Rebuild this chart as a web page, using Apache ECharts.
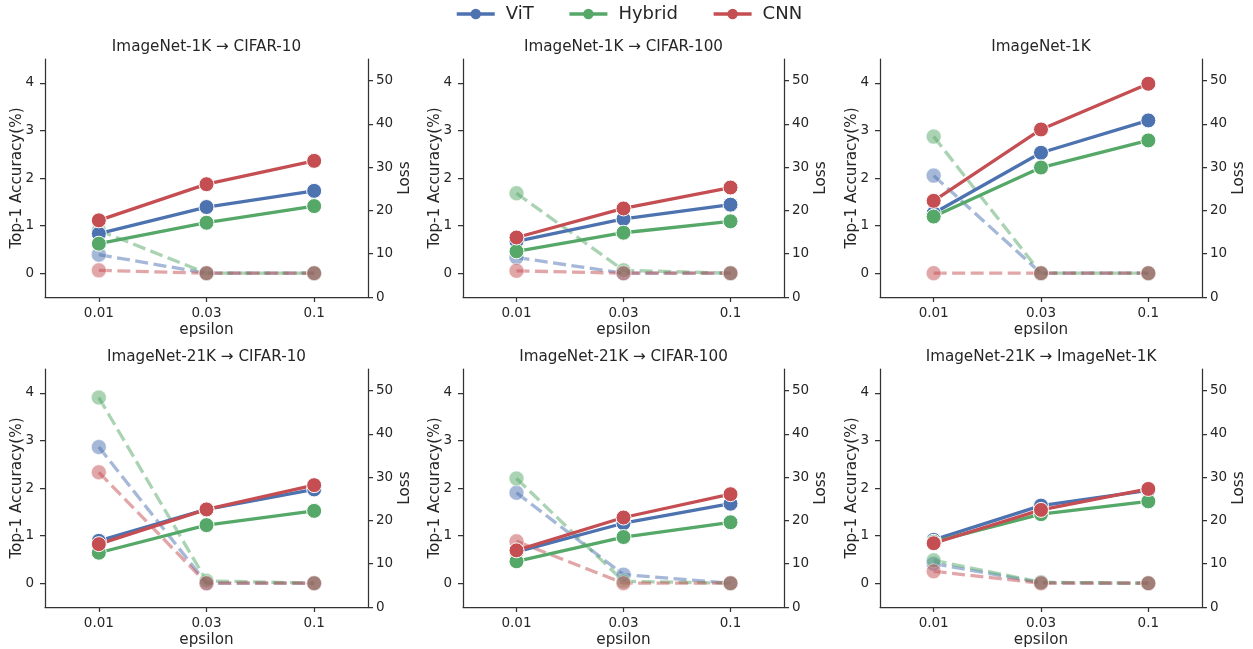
<!DOCTYPE html>
<html>
<head>
<meta charset="utf-8">
<script src="https://cdn.jsdelivr.net/npm/echarts@6/dist/echarts.min.js"></script>
<style>
html,body{margin:0;padding:0;background:#fff;}
#chart{width:1253px;height:649px;}
</style>
</head>
<body>
<div id="chart"></div>
<script>
// ---- data ----
const epsilons = ['0.01', '0.03', '0.1'];
const models = ['ViT', 'Hybrid', 'CNN'];
const panelTitles = [
  'ImageNet-1K → CIFAR-10',
  'ImageNet-1K → CIFAR-100',
  'ImageNet-1K',
  'ImageNet-21K → CIFAR-10',
  'ImageNet-21K → CIFAR-100',
  'ImageNet-21K → ImageNet-1K'
];
const accTicks = [0, 1, 2, 3, 4];
const lossTicks = [0, 10, 20, 30, 40, 50];

// solid lines (Top-1 accuracy), one triple per panel
const vitSolid = [
  [0.83, 1.39, 1.73],
  [0.67, 1.14, 1.44],
  [1.26, 2.53, 3.21],
  [0.89, 1.55, 1.97],
  [0.66, 1.26, 1.67],
  [0.91, 1.63, 1.95]
];
const hybridSolid = [
  [0.62, 1.06, 1.41],
  [0.46, 0.85, 1.09],
  [1.19, 2.22, 2.79],
  [0.64, 1.22, 1.52],
  [0.46, 0.97, 1.28],
  [0.87, 1.45, 1.72]
];
const cnnSolid = [
  [1.11, 1.87, 2.36],
  [0.75, 1.36, 1.80],
  [1.52, 3.02, 3.98],
  [0.82, 1.55, 2.06],
  [0.69, 1.38, 1.87],
  [0.84, 1.54, 1.98]
];
// dashed lines
const vitDashed = [
  [0.39, 0.0, 0.0],
  [0.33, 0.0, 0.0],
  [2.05, 0.0, 0.0],
  [2.86, 0.0, 0.0],
  [1.90, 0.18, 0.0],
  [0.41, 0.01, 0.0]
];
const hybridDashed = [
  [0.90, 0.0, 0.0],
  [1.68, 0.06, 0.0],
  [2.87, 0.0, 0.0],
  [3.90, 0.05, 0.0],
  [2.20, 0.04, 0.0],
  [0.48, 0.02, 0.0]
];
const cnnDashed = [
  [0.06, 0.0, 0.0],
  [0.05, 0.0, 0.0],
  [0.0, 0.0, 0.0],
  [2.33, 0.0, 0.0],
  [0.88, 0.0, 0.0],
  [0.25, 0.0, 0.0]
];

// ---- styling / layout ----
const colors = { ViT: '#4C72B0', Hybrid: '#55A868', CNN: '#C44E52' };
const solidData = { ViT: vitSolid, Hybrid: hybridSolid, CNN: cnnSolid };
const dashedData = { ViT: vitDashed, Hybrid: hybridDashed, CNN: cnnDashed };
const FONT = 'DejaVu Sans';
const TXT = '#262626';
const SPINE = '#333333';
const LBL = 15.2, TICK = 13.5;
const colLeft = [45, 463, 880];
const colWidth = [323, 321, 322];
const rowTop = [59, 369];
const gridH = 238;

const grids = [], xAxes = [], yAxes = [], series = [], graphics = [];
for (let p = 0; p < 6; p++) {
  const r = Math.floor(p / 3), c = p % 3;
  grids.push({ left: colLeft[c], top: rowTop[r], width: colWidth[c], height: gridH, containLabel: false });
  xAxes.push({
    type: 'category', gridIndex: p, data: epsilons, boundaryGap: true, position: 'bottom',
    name: 'epsilon', nameLocation: 'middle', nameGap: 26, nameMoveOverlap: false,
    nameTextStyle: { fontFamily: FONT, fontSize: LBL, color: TXT },
    axisLine: { show: true, onZero: false, lineStyle: { color: SPINE, width: 1.25 } },
    axisTick: { show: true, alignWithLabel: true, length: 5, lineStyle: { color: SPINE, width: 1.25 } },
    axisLabel: { fontFamily: FONT, fontSize: TICK, color: TXT, margin: 9 },
    splitLine: { show: false }
  });
  yAxes.push({
    type: 'value', gridIndex: p, position: 'left', min: -0.5, max: 4.5,
    name: 'Top-1 Accuracy(%)', nameLocation: 'middle', nameGap: 20, nameRotate: 90, nameMoveOverlap: false,
    nameTextStyle: { fontFamily: FONT, fontSize: LBL, color: TXT },
    axisLine: { show: true, onZero: false, lineStyle: { color: SPINE, width: 1.25 } },
    axisTick: { show: true, length: 5, customValues: accTicks, lineStyle: { color: SPINE, width: 1.25 } },
    axisLabel: { fontFamily: FONT, fontSize: TICK, color: TXT, margin: 11, customValues: accTicks },
    splitLine: { show: false }
  });
  yAxes.push({
    type: 'value', gridIndex: p, position: 'right', min: 0, max: 55,
    name: 'Loss', nameLocation: 'middle', nameGap: 30, nameRotate: 90, nameMoveOverlap: false,
    nameTextStyle: { fontFamily: FONT, fontSize: LBL, color: TXT },
    axisLine: { show: true, onZero: false, lineStyle: { color: SPINE, width: 1.25 } },
    axisTick: { show: true, length: 5, customValues: lossTicks, lineStyle: { color: SPINE, width: 1.25 } },
    axisLabel: { fontFamily: FONT, fontSize: TICK, color: TXT, margin: 8, customValues: lossTicks },
    splitLine: { show: false }
  });
  // dashed first (below)
  models.forEach(m => {
    series.push({
      name: m + ' (dashed)', type: 'line', xAxisIndex: p, yAxisIndex: 2 * p,
      data: dashedData[m][p], symbol: 'circle', symbolSize: 15, z: 2,
      lineStyle: { color: colors[m], width: 3.3, type: [13, 5.5], opacity: 0.5 },
      itemStyle: { color: colors[m], borderColor: '#ffffff', borderWidth: 1, opacity: 0.5 },
      emphasis: { disabled: true }, animation: false
    });
  });
  models.forEach(m => {
    series.push({
      name: m, type: 'line', xAxisIndex: p, yAxisIndex: 2 * p,
      data: solidData[m][p], symbol: 'circle', symbolSize: 15, z: 3,
      lineStyle: { color: colors[m], width: 3.3 },
      itemStyle: { color: colors[m], borderColor: '#ffffff', borderWidth: 1 },
      emphasis: { disabled: true }, animation: false
    });
  });
  graphics.push({
    type: 'text', x: colLeft[c] + colWidth[c] / 2, y: rowTop[r] - 12,
    style: { text: panelTitles[p], font: LBL + 'px "DejaVu Sans"', fill: TXT, textAlign: 'center', textVerticalAlign: 'middle' }
  });
}

const chart = echarts.init(document.getElementById('chart'), null, { renderer: 'canvas' });
chart.setOption({
  backgroundColor: '#ffffff',
  animation: false,
  textStyle: { fontFamily: FONT },
  legend: {
    data: models, left: 455, top: 5, padding: 0, itemWidth: 38, itemHeight: 13, itemGap: 34,
    lineStyle: { width: 3.5 },
    itemStyle: { borderWidth: 0 },
    textStyle: { fontFamily: FONT, fontSize: 18, color: TXT, padding: [0, 0, 0, 6] }
  },
  grid: grids, xAxis: xAxes, yAxis: yAxes, series: series, graphic: graphics
});
</script>
</body>
</html>
